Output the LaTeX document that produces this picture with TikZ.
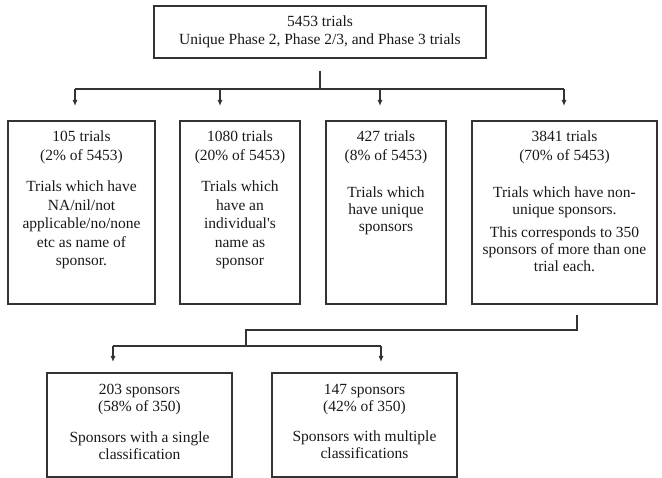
\documentclass[tikz,border=0pt]{standalone}
\usepackage{fontspec}
\setmainfont{Liberation Serif}
\usetikzlibrary{calc,positioning,arrows.meta}
\tikzset{
 fc box/.style={draw=black!80,line width=1.1pt,inner sep=0pt,outer sep=0pt,
                align=center,font=\fontsize{15.5}{18}\selectfont},
 fc text/.style={align=center,inner sep=0pt,anchor=north,text=black!90,
                 font=\fontsize{15.5}{18.5}\selectfont},
 fc line/.style={draw=black!80,line width=1.1pt},
 fc arrow/.style={fc line,-{Latex[length=6pt,width=5pt]}}
}

\begin{document}
\begin{tikzpicture}[x=1pt,y=-1pt]
 \useasboundingbox (0,0) rectangle (662,478);
 % top box
 \node[fc box,minimum width=332pt,minimum height=52pt,text=black!90] (top) at (320,32)
   {5453 trials\\Unique Phase 2, Phase 2/3, and Phase 3 trials};
 % second row
 \foreach \b/\x/\w in {b1/81.5/147,b2/240/120,b3/386/120,b4/564.5/185}{
   \node[fc box,minimum width=\w pt,minimum height=183pt] (\b) at (\x,212.5) {};
 }
 \node[fc text] (t1) at ($(b1.north)+(0,10)$)
   {105 trials\\(2\% of 5453)\\[13pt]Trials which have\\NA/nil/not\\
    applicable/no/none\\etc as name of\\sponsor.};
 \node[fc text] (t2) at ($(b2.north)+(0,10)$)
   {1080 trials\\(20\% of 5453)\\[13pt]Trials which\\have an\\
    individual\textquotesingle s\\name as\\sponsor};
 \node[fc text] (t3) at ($(b3.north)+(0,10)$)
   {427 trials\\(8\% of 5453)\\[19pt]Trials which\\[-1.5pt]have unique\\[-1.5pt]
    sponsors};
 \node[fc text] (t4) at ($(b4.north)+(0,10)$)
   {3841 trials\\(70\% of 5453)\\[19pt]Trials which have non-\\[-1.5pt]
    unique sponsors.\\[4pt]This corresponds to 350\\[-1.5pt]
    sponsors of more than one\\[-1.5pt]trial each.};
 % bottom row
 \foreach \b/\x in {b5/139.5,b6/364.5}{
   \node[fc box,minimum width=185pt,minimum height=104pt] (\b) at (\x,425) {};
 }
 \node[fc text] (t5) at ($(b5.north)+(0,11)$)
   {203 sponsors\\[-1.5pt](58\% of 350)\\[12pt]Sponsors with a single\\[-1.5pt]
    classification};
 \node[fc text] (t6) at ($(b6.north)+(0,11)$)
   {147 sponsors\\[-1.5pt](42\% of 350)\\[12pt]Sponsors with multiple\\[-1.5pt]
    classifications};
 % connectors, top level
 \coordinate (t0) at ($(top.south)+(0,13)$);
 \foreach \n/\x in {1/75,2/220,3/380,4/564}{
   \coordinate (h\n) at (\x,89);
   \coordinate (a\n) at (\x,106);
   \draw[fc arrow] (h\n) -- (a\n);
 }
 \draw[fc line] (t0) -- (t0 |- h1);
 \draw[fc line] (h1) -- (h4);
 % connectors, from the 3841 box
 \coordinate (s0) at ($(b4.south)+(12.5,11)$);
 \coordinate (s1) at (246,330);
 \coordinate (s2) at (246,346);
 \coordinate (g1) at (113,346);
 \coordinate (g2) at (381,346);
 \draw[fc line] (s0) |- (s1) -- (s2);
 \draw[fc line] (g1) -- (g2);
 \foreach \g in {g1,g2}{\draw[fc arrow] (\g) -- ++(0,16);}
\end{tikzpicture}
\end{document}
